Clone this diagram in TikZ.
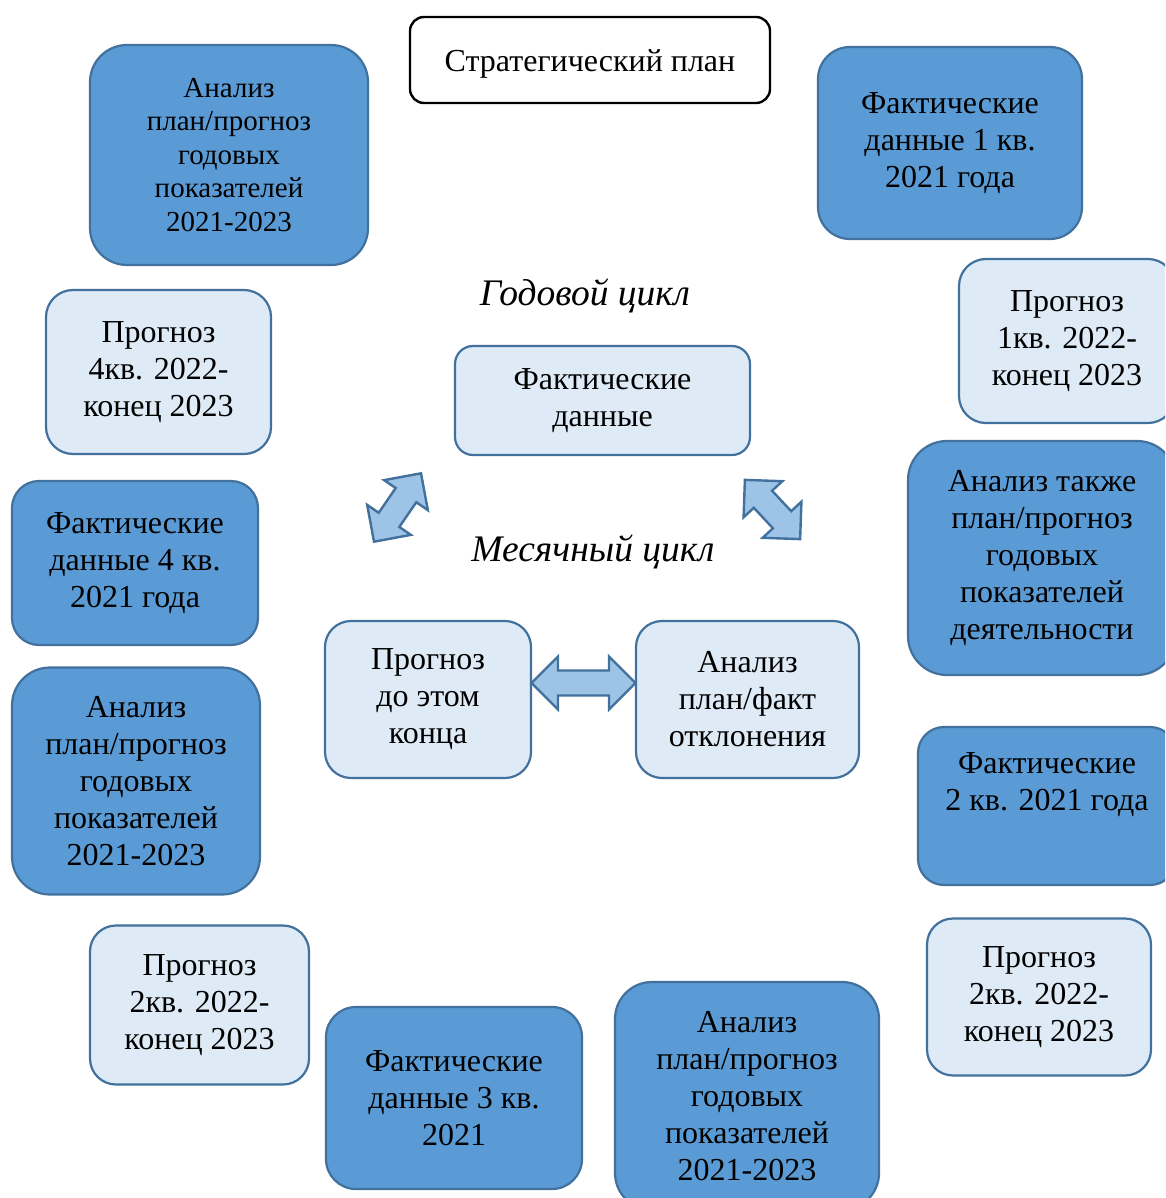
\documentclass[tikz,border=0pt]{standalone}
\usepackage{fontspec}
\setmainfont{Liberation Serif}
\usetikzlibrary{calc}
\definecolor{darkfill}{HTML}{5B9BD5}
\definecolor{lightfill}{HTML}{DEEBF7}
\definecolor{edgeblue}{HTML}{41719C}
\definecolor{arrowfill}{HTML}{9DC3E6}
\tikzset{
  box/.style={draw=edgeblue, line width=2.2pt, align=center, inner sep=0pt,
    font=\fontsize{32}{37}\selectfont, text=black},
  darkbox/.style={box, fill=darkfill},
  lightbox/.style={box, fill=lightfill},
  blockarrow/.style={draw=edgeblue, fill=arrowfill, line width=2.4pt, line join=miter},
  cyclelabel/.style={font=\fontsize{37.5}{42}\selectfont\itshape, inner sep=0pt}
}
\newcommand{\dblarrowshape}[1]{%
  (-#1/2,0) -- (-#1/2+26.5,26.5) -- (-#1/2+26.5,12.5) -- (#1/2-26.5,12.5) --
  (#1/2-26.5,26.5) -- (#1/2,0) -- (#1/2-26.5,-26.5) -- (#1/2-26.5,-12.5) --
  (-#1/2+26.5,-12.5) -- (-#1/2+26.5,-26.5) -- cycle}
\begin{document}
\begin{tikzpicture}[x=1pt,y=-1pt]
\useasboundingbox (0,0) rectangle (1165,1198);
\clip (0,0) rectangle (1165,1198);
\fill[white] (0,0) rectangle (1165,1198);

\node[box, draw=black, fill=white, line width=2.4pt, rounded corners=14pt,
  minimum width=360pt, minimum height=86pt, text depth=2pt]
  (strat) at (590,60) {\raisebox{-4pt}{Стратегический план}};

\node[darkbox, rounded corners=37pt, minimum width=278pt, minimum height=220pt,
  font=\fontsize{29}{33.5}\selectfont]
  (tl) at (229,155) {Анализ\\план/прогноз\\годовых\\показателей\\2021-2023};

\node[darkbox, rounded corners=32pt, minimum width=264pt, minimum height=192pt]
  (tr) at (950,143) {Фактические\\данные 1 кв.\\2021 года};

\node[lightbox, rounded corners=27pt, minimum width=216pt, minimum height=164pt]
  (p1) at (1067,341) {Прогноз\\1кв. 2022-\\конец 2023};

\node[lightbox, rounded corners=27pt, minimum width=225pt, minimum height=164pt]
  (p4) at (158.5,372) {Прогноз\\4кв. 2022-\\конец 2023};

\node[cyclelabel] (year) at (585,296) {Годовой цикл};

\node[lightbox, rounded corners=18pt, minimum width=295pt, minimum height=109pt]
  (fact) at (602.5,400.5) {Фактические\\данные};

\node[cyclelabel] (month) at (593,552) {Месячный цикл};

\node[darkbox, rounded corners=39pt, minimum width=268pt, minimum height=234pt]
  (an2) at (1042,558) {Анализ также\\план/прогноз\\годовых\\показателей\\деятельности};

\node[darkbox, rounded corners=27pt, minimum width=246pt, minimum height=164pt]
  (f4) at (135,563) {Фактические\\данные 4 кв.\\2021 года};

\node[lightbox, rounded corners=26pt, minimum width=206pt, minimum height=157pt]
  (pr) at (428,699.5) {Прогноз\\до этом\\конца};

\node[lightbox, rounded corners=26pt, minimum width=223pt, minimum height=157pt]
  (an) at (747.5,699.5) {Анализ\\план/факт\\отклонения};

\node[darkbox, rounded corners=38pt, minimum width=248pt, minimum height=227pt]
  (an3) at (136,781) {Анализ\\план/прогноз\\годовых\\показателей\\2021-2023};

\node[darkbox, rounded corners=26pt, minimum width=258pt, minimum height=158pt]
  (f2) at (1047,806) {Фактические\\2 кв. 2021 года\\ \strut};

\node[lightbox, rounded corners=26pt, minimum width=219pt, minimum height=159pt]
  (p2l) at (199.5,1005) {Прогноз\\2кв. 2022-\\конец 2023};

\node[lightbox, rounded corners=26pt, minimum width=224pt, minimum height=157pt]
  (p2r) at (1039,997) {Прогноз\\2кв. 2022-\\конец 2023};

\node[darkbox, rounded corners=30pt, minimum width=256pt, minimum height=182pt]
  (f3) at (454,1098) {Фактические\\данные 3 кв.\\2021};

\node[darkbox, rounded corners=37pt, minimum width=264pt, minimum height=228pt]
  (an4) at (747,1096) {Анализ\\план/прогноз\\годовых\\показателей\\2021-2023};

% block arrows
\begin{scope}[shift={($(pr.east)!0.5!(an.west)+(0,-16.5)$)}]
  \draw[blockarrow] \dblarrowshape{104};
\end{scope}
\begin{scope}[shift={(397.5,507.5)}, rotate=55.5]
  \draw[blockarrow] \dblarrowshape{83};
\end{scope}
\begin{scope}[shift={(772.5,509.5)}, rotate=-47]
  \draw[blockarrow] \dblarrowshape{81};
\end{scope}
\end{tikzpicture}
\end{document}
